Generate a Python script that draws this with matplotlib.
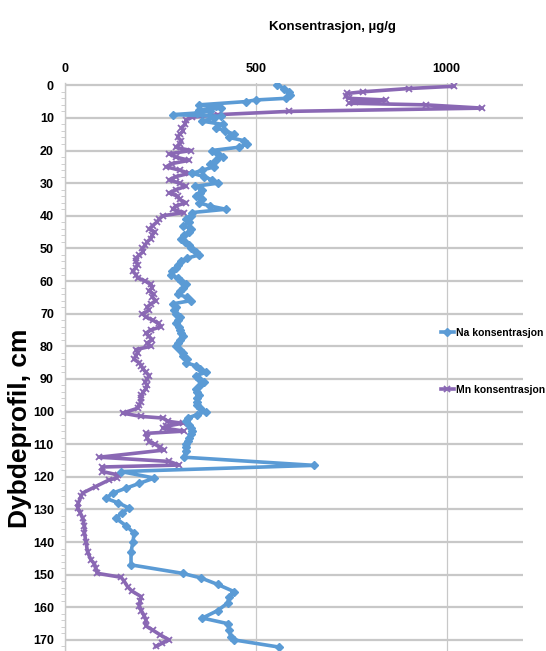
import numpy as np
import matplotlib
matplotlib.use('Agg')
import matplotlib.pyplot as plt
from matplotlib.ticker import MultipleLocator

plt.rcParams['font.family'] = ['Liberation Sans', 'DejaVu Sans']

# Na-konsentrasjon (µg/g) mot dybde (cm)
na_depth = [0, 1, 2, 3, 4, 4.5, 5, 6, 6.5, 7, 7.5, 8, 8.5, 9, 9.5, 10, 11, 12, 13, 14,
            15, 16, 17, 18, 19, 20, 21, 22, 23, 24, 25, 26, 27, 28, 29, 30, 31, 32, 33, 34,
            35, 36, 37, 38, 39, 40, 41, 42, 43, 44, 45, 46, 47, 48, 49, 50, 51, 52, 53, 54,
            55, 56, 57, 58, 59, 60, 61, 62, 63, 64, 65, 66, 67, 68, 69, 70, 71, 72, 73, 74,
            75, 76, 77, 78, 79, 80, 81, 82, 83, 84, 85, 86, 87, 88, 89, 90, 91, 92, 93, 94,
            95, 96, 97, 98, 99, 100, 101, 102, 103, 104, 105, 106, 107, 108, 109, 110, 111,
            112, 114, 116.5, 118.4, 120.4, 122, 123.5, 125, 126.6, 128, 129.6, 131, 132.7,
            135, 137.3, 140, 143, 147, 149.6, 151, 153, 155.2, 157, 158.7, 161, 163.3, 165,
            167, 169, 170, 172.2]
na_conc = [556, 575, 587, 589, 578, 500, 474, 351, 395, 408, 351, 380, 345, 282, 408, 390,
           360, 413, 395, 420, 443, 430, 470, 478, 455, 384, 400, 413, 395, 380, 391, 360,
           334, 365, 385, 400, 340, 360, 355, 343, 360, 350, 380, 421, 334, 330, 317, 325,
           310, 330, 326, 312, 304, 315, 325, 330, 343, 351, 320, 305, 295, 290, 280, 277,
           295, 305, 317, 310, 300, 295, 320, 330, 282, 290, 285, 290, 300, 295, 290, 299,
           300, 305, 308, 300, 295, 290, 300, 310, 308, 320, 317, 343, 355, 369, 343, 350,
           365, 355, 343, 345, 350, 347, 345, 347, 355, 369, 345, 321, 316, 325, 330, 332,
           330, 325, 321, 318, 316, 316, 312, 653, 147, 234, 195, 160, 125, 107, 140, 168,
           150, 133, 160, 181, 178, 173, 173, 308, 356, 400, 443, 430, 426, 400, 360, 426,
           430, 434, 443, 561]

# Mn-konsentrasjon (µg/g) mot dybde (cm)
mn_depth = [0.3, 1, 2, 2.5, 3.4, 4, 4.5, 5, 5.5, 6, 7, 8, 9, 9.8, 10.6, 12, 13, 14, 15, 16,
            17, 18, 19, 20, 21, 22, 23, 24, 25, 26, 27, 28, 29, 30, 31, 32, 33, 34, 35, 36,
            37, 38, 39, 40, 41, 42, 43, 44, 45, 46, 47, 48, 49, 50, 51, 52, 53, 54, 55, 56,
            57, 58, 59, 60, 61, 62, 63, 64, 65, 66, 67, 68, 69, 70, 71, 72, 73, 74, 75, 76,
            77, 78, 79, 80, 81, 82, 83, 84, 85, 86, 87, 88, 89, 90, 91, 92, 93, 94, 95, 96,
            97, 98, 99, 100.5, 101.5, 102, 103, 103.6, 104.5, 105, 106, 106.7, 108, 109.2,
            110, 111, 111.8, 114, 115.3, 116.4, 117, 118.4, 119.4, 120.4, 121, 123, 125, 126,
            128, 129.6, 131, 132.7, 135, 137.3, 140, 143, 145.5, 146.6, 148, 149.6, 150.8,
            152, 153.7, 155, 156.7, 158, 159.6, 161, 162.7, 164, 165.7, 167, 168.5, 170, 171,
            172]
mn_conc = [1019, 900, 780, 740, 735, 743, 840, 760, 745, 945, 1093, 587, 400, 333, 317, 315,
           305, 310, 300, 295, 305, 300, 290, 330, 273, 290, 325, 280, 265, 300, 325, 290,
           273, 300, 317, 290, 273, 295, 300, 317, 290, 282, 312, 256, 247, 240, 230, 221,
           235, 228, 225, 215, 210, 203, 205, 195, 186, 186, 190, 185, 177, 186, 190, 210,
           225, 229, 220, 232, 229, 238, 225, 215, 220, 203, 212, 230, 245, 251, 225, 212,
           220, 229, 215, 225, 186, 190, 185, 181, 194, 200, 205, 212, 221, 215, 210, 215,
           212, 205, 200, 199, 198, 195, 190, 151, 200, 256, 270, 308, 265, 256, 312, 212,
           215, 221, 235, 250, 260, 90, 273, 299, 98, 98, 138, 135, 115, 80, 46, 42, 35, 33,
           40, 46, 51, 51, 55, 59, 68, 77, 80, 85, 147, 155, 164, 175, 199, 197, 195, 200,
           208, 212, 212, 230, 250, 273, 255, 238]

x_ticks = [0, 500, 1000]
y_ticks = list(range(0, 171, 10))

na_color = '#5b9bd5'
mn_color = '#8a68b4'
grid_color = '#c8c8c8'

fig = plt.figure(figsize=(5.46, 6.51), dpi=100)
ax = fig.add_axes([65 / 546, 0.0, (523 - 65) / 546, (651 - 83) / 651])

ax.plot(na_conc, na_depth, color=na_color, lw=2.6, marker='D', ms=3.8,
        label='Na konsentrasjon', zorder=3)
ax.plot(mn_conc, mn_depth, color=mn_color, lw=2.6, marker='x', ms=4.5, mew=1.3,
        label='Mn konsentrasjon', zorder=2)

ax.set_xlim(0, 1200)
ax.set_ylim(173.4, -0.7)

ax.xaxis.tick_top()
ax.set_xticks(x_ticks)
ax.set_yticks(y_ticks)
ax.yaxis.set_minor_locator(MultipleLocator(2))
ax.tick_params(axis='x', length=0, pad=6, labelsize=9)
ax.tick_params(axis='y', which='major', length=0, pad=8, labelsize=9)
ax.tick_params(axis='y', which='minor', length=3, color=grid_color, direction='out')
for lab in ax.get_xticklabels() + ax.get_yticklabels():
    lab.set_fontweight('bold')

ax.grid(axis='y', color=grid_color, lw=1.6)
ax.grid(axis='x', color=grid_color, lw=0.9)
ax.set_axisbelow(True)
for side in ['top', 'right', 'bottom']:
    ax.spines[side].set_visible(False)
ax.spines['left'].set_color(grid_color)
ax.spines['left'].set_linewidth(1.0)

fig.text(332 / 546, 1 - 27 / 651, 'Konsentrasjon, µg/g', ha='center', va='center',
         fontsize=9.5, fontweight='bold')
fig.text(20 / 546, 1 - 428 / 651, 'Dybdeprofil, cm', ha='center', va='center',
         rotation=90, fontsize=19, fontweight='bold')

leg = ax.legend(loc='upper left', bbox_to_anchor=(441 / 546, 1 - 328 / 651),
                bbox_transform=fig.transFigure, frameon=False, fontsize=7.5,
                handlelength=1.2, handletextpad=0.2, labelspacing=4.5,
                borderaxespad=0, borderpad=0)
for t in leg.get_texts():
    t.set_fontweight('bold')

fig.savefig('out.png', dpi=100)
